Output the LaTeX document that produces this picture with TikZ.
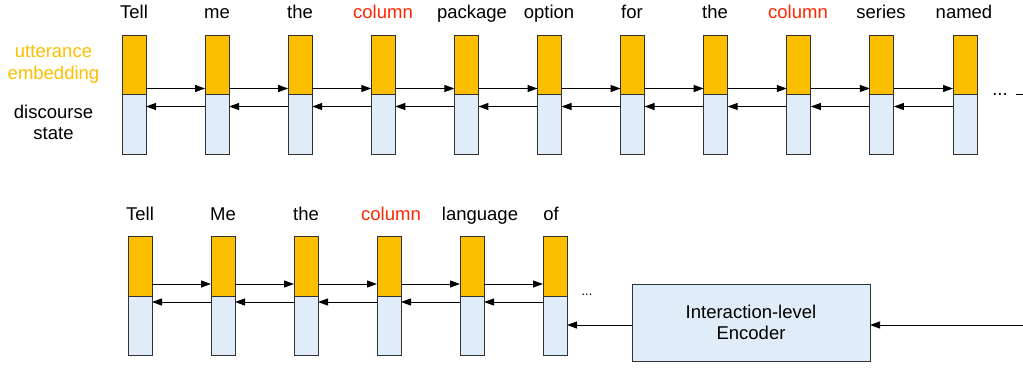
\documentclass[tikz,border=0pt]{standalone}
\usepackage{fontspec}
\setmainfont{Liberation Sans}
\usetikzlibrary{arrows.meta,calc}
\definecolor{gold}{RGB}{251,191,0}
\definecolor{pale}{RGB}{225,236,249}
\definecolor{redw}{RGB}{255,38,0}
\definecolor{edge}{RGB}{50,50,50}
\begin{document}
\begin{tikzpicture}[x=1pt,y=-1pt,
  emb/.style={draw=edge,fill=gold,line width=1pt,minimum width=24pt,minimum height=59.5pt,inner sep=0pt,outer sep=0pt,anchor=north west},
  ds/.style={emb,fill=pale},
  embb/.style={emb,minimum height=59.3pt},
  dsb/.style={ds,minimum height=59.3pt},
  word/.style={font=\fontsize{18.5}{21}\selectfont,anchor=base,inner sep=0pt},
  arr/.style={-{Triangle[length=10pt,width=7pt]},line width=1pt,black},
  enc/.style={draw=edge,fill=pale,line width=1pt,minimum width=238pt,minimum height=77pt,inner sep=0pt,outer sep=0pt,align=center,font=\fontsize{18.5}{21}\selectfont}]
\useasboundingbox (0,0) rectangle (1023,370);

% top row
\foreach \i in {1,...,11} {
  \node[emb] (t\i) at ({122+83.1*(\i-1)},35) {};
  \node[ds] (d\i) at ({122+83.1*(\i-1)},94.5) {};
}
\foreach \i in {1,...,10} {
  \pgfmathtruncatemacro{\j}{\i+1}
  \draw[arr] ([yshift=6pt]t\i.south east) -- ([yshift=6pt]t\j.south west);
  \draw[arr] ([yshift=-12pt]d\j.north west) -- ([yshift=-12pt]d\i.north east);
}
\node[word] (w1) at (134,18) {Tell};
\node[word] (w2) at (217,18) {me};
\node[word] (w3) at (300,18) {the};
\node[word,text=redw] (w4) at (383,18) {column};
\node[word] (w5) at (472,18) {package};
\node[word] (w6) at (549,18) {option};
\node[word] (w7) at (632,18) {for};
\node[word] (w8) at (715,18) {the};
\node[word,text=redw] (w9) at (798,18) {column};
\node[word] (w10) at (881,18) {series};
\node[word] (w11) at (964,18) {named};

\node[word,text=gold] (l1) at (53.5,57) {utterance};
\node[word,text=gold] (l2) at (53.5,79) {embedding};
\node[word] (l3) at (53.5,118) {discourse};
\node[word] (l4) at (53.5,139) {state};

\node[word] (dotsA) at (1000,95) {...};
\coordinate (cutA) at (1016,94);
\coordinate (cutB) at (1023,94);
\draw[line width=1pt] (cutA) -- (cutB);

% bottom row
\foreach \i in {1,...,6} {
  \node[embb] (bt\i) at ({128+83*(\i-1)},236.7) {};
  \node[dsb] (bd\i) at ({128+83*(\i-1)},296) {};
}
\foreach \i in {1,...,5} {
  \pgfmathtruncatemacro{\j}{\i+1}
  \draw[arr] ([yshift=12pt]bt\i.south east) -- ([yshift=12pt]bt\j.south west);
  \draw[arr] ([yshift=-6pt]bd\j.north west) -- ([yshift=-6pt]bd\i.north east);
}
\node[word] (v1) at (140,220) {Tell};
\node[word] (v2) at (223,220) {Me};
\node[word] (v3) at (306,220) {the};
\node[word,text=redw] (v4) at (391,220) {column};
\node[word] (v5) at (480,220) {language};
\node[word] (v6) at (551,220) {of};
\node[font=\fontsize{13}{15}\selectfont,anchor=base,inner sep=0pt] (dotsB) at (587,295) {...};

\node[enc] (encoder) at (751,322.5) {Interaction-level\\Encoder};
\coordinate (inp) at (1023,325);
\draw[arr] (inp) -- (encoder.east |- inp);
\draw[arr] (encoder.west |- inp) -- (bd6.east |- inp);
\end{tikzpicture}
\end{document}
